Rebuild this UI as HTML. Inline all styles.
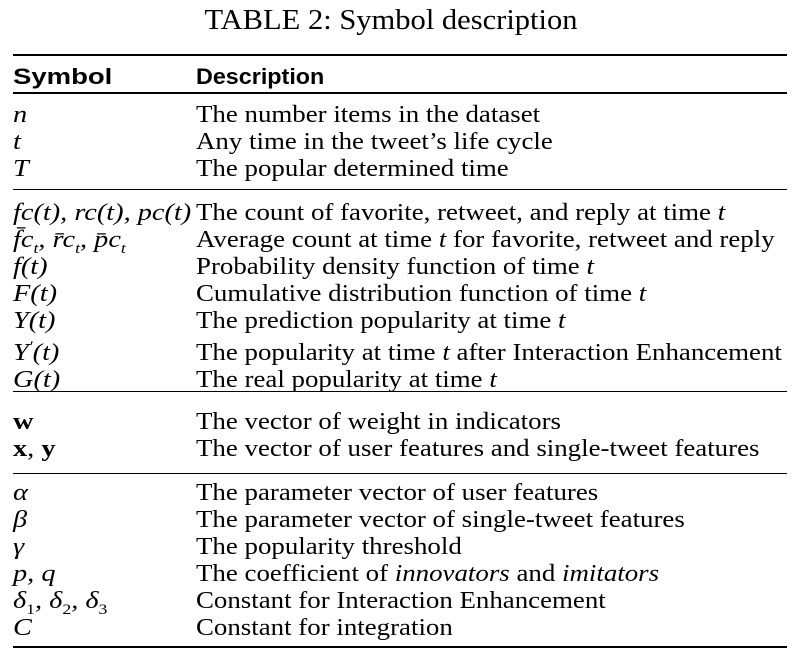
<!DOCTYPE html>
<html><head><meta charset="utf-8"><style>
body{margin:0;width:808px;height:658px;background:#fff;position:relative;overflow:hidden;font-family:"Liberation Serif","DejaVu Serif",serif;color:#000}
.r{position:absolute;left:13px;width:774px;background:#000}
.t{position:absolute;font-size:24px;line-height:26px;white-space:nowrap;transform-origin:left center;margin-top:1px}
.s{left:13px;font-style:italic;transform:scaleX(1.18)}
.d{left:196px;transform:scaleX(1.12)}
.h{font-family:"Liberation Sans","DejaVu Sans",sans-serif;font-weight:bold;font-size:22px}
b.m{font-style:normal;font-weight:bold}
sub,sup{font-size:15px;line-height:0}
</style></head><body>
<div class="t" style="left:-13px;width:808px;text-align:center;top:5px;font-size:28px;line-height:30px;transform:scaleX(1.09);transform-origin:center">TABLE 2: Symbol description</div>
<div class="r" style="top:54px;height:2px"></div>
<div class="t h" style="left:13px;top:63px;transform:scaleX(1.25)">Symbol</div>
<div class="t h" style="left:196px;top:63px;transform:scaleX(1.06)">Description</div>
<div class="r" style="top:92px;height:2px"></div>
<div class="r" style="top:189px;height:1px"></div>
<div class="r" style="top:391px;height:1px"></div>
<div class="r" style="top:473px;height:1px"></div>
<div class="r" style="top:646px;height:2px"></div>

<div class="t s" style="top:101px">n</div>
<div class="t d" style="top:101px">The number items in the dataset</div>
<div class="t s" style="top:128px">t</div>
<div class="t d" style="top:128px">Any time in the tweet’s life cycle</div>
<div class="t s" style="top:155px">T</div>
<div class="t d" style="top:155px">The popular determined time</div>

<div class="t s" style="top:199px">fc(t), rc(t), pc(t)</div>
<div class="t d" style="top:199px">The count of favorite, retweet, and reply at time <i>t</i></div>
<div class="t s" style="top:226px">f̄c<sub>t</sub>, r̄c<sub>t</sub>, p̄c<sub>t</sub></div>
<div class="t d" style="top:226px">Average count at time <i>t</i> for favorite, retweet and reply</div>
<div class="t s" style="top:253px">f(t)</div>
<div class="t d" style="top:253px">Probability density function of time <i>t</i></div>
<div class="t s" style="top:280px">F(t)</div>
<div class="t d" style="top:280px">Cumulative distribution function of time <i>t</i></div>
<div class="t s" style="top:307px">Y(t)</div>
<div class="t d" style="top:307px">The prediction popularity at time <i>t</i></div>
<div class="t s" style="top:339px">Y<sup>′</sup>(t)</div>
<div class="t d" style="top:339px">The popularity at time <i>t</i> after Interaction Enhancement</div>
<div class="t s" style="top:366px">G(t)</div>
<div class="t d" style="top:366px">The real popularity at time <i>t</i></div>

<div class="t s" style="top:408px"><b class="m">w</b></div>
<div class="t d" style="top:408px">The vector of weight in indicators</div>
<div class="t s" style="top:435px"><b class="m">x</b>, <b class="m">y</b></div>
<div class="t d" style="top:435px">The vector of user features and single-tweet features</div>

<div class="t s" style="top:479px">α</div>
<div class="t d" style="top:479px">The parameter vector of user features</div>
<div class="t s" style="top:506px">β</div>
<div class="t d" style="top:506px">The parameter vector of single-tweet features</div>
<div class="t s" style="top:533px">γ</div>
<div class="t d" style="top:533px">The popularity threshold</div>
<div class="t s" style="top:560px">p, q</div>
<div class="t d" style="top:560px">The coefficient of <i>innovators</i> and <i>imitators</i></div>
<div class="t s" style="top:587px">δ<sub style="font-style:normal">1</sub>, δ<sub style="font-style:normal">2</sub>, δ<sub style="font-style:normal">3</sub></div>
<div class="t d" style="top:587px">Constant for Interaction Enhancement</div>
<div class="t s" style="top:614px">C</div>
<div class="t d" style="top:614px">Constant for integration</div>
</body></html>
